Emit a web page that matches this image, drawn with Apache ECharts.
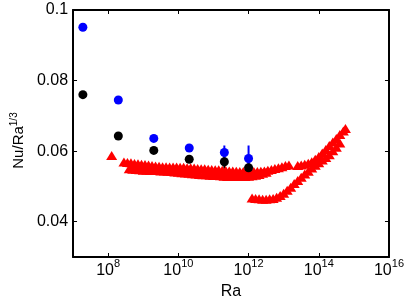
<!DOCTYPE html>
<html><head><meta charset="utf-8">
<script src="https://cdn.jsdelivr.net/npm/echarts@6/dist/echarts.min.js"></script>
<style>html,body{margin:0;padding:0;background:#fff}#c{width:407px;height:305px}</style>
</head><body><div id="c"></div>
<script>
// tick positions
const xTickExps = [8, 10, 12, 14, 16];
const yTicks = [0.04, 0.06, 0.08, 0.1];

// black circles (log10 Ra, Nu/Ra^1/3, error)
const blackLogRa = [7.28, 8.29, 9.30, 10.31, 11.31, 12.00];
const blackVal   = [0.0760, 0.0643, 0.0602, 0.0577, 0.0570, 0.0553];
const blackErr   = [0, 0, 0, 0, 0.0020, 0.0035];

// blue circles
const blueLogRa = [7.28, 8.29, 9.30, 10.31, 11.31, 12.00];
const blueVal   = [0.0951, 0.0745, 0.0636, 0.0609, 0.0596, 0.0579];
const blueErr   = [0, 0, 0, 0, 0.0020, 0.0037];

// red triangles, upper branch, upper row
const redALogRa = [8.10, 8.45, 8.55, 8.65, 8.75, 8.85, 8.95, 9.05, 9.15, 9.25, 9.35, 9.45, 9.55, 9.65, 9.75, 9.85, 9.95,
  10.05, 10.15, 10.25, 10.35, 10.45, 10.55, 10.65, 10.75, 10.85, 10.95, 11.05, 11.15, 11.25, 11.35, 11.45, 11.55, 11.65,
  11.75, 11.85, 11.95, 12.05, 12.15, 12.25, 12.35, 12.45, 12.55, 12.65, 12.75, 12.85, 12.95, 13.05, 13.15];
const redAVal   = [0.0588, 0.0569, 0.0568, 0.0567, 0.0565, 0.0564, 0.0563, 0.0562, 0.0561, 0.0559, 0.0558, 0.0557, 0.0556, 0.0556, 0.0555, 0.0555, 0.0555,
  0.0554, 0.0554, 0.0553, 0.0553, 0.0552, 0.0551, 0.0550, 0.0550, 0.0549, 0.0548, 0.0547, 0.0547, 0.0546, 0.0545, 0.0544, 0.0544, 0.0543,
  0.0542, 0.0542, 0.0542, 0.0542, 0.0542, 0.0542, 0.0543, 0.0544, 0.0546, 0.0548, 0.0551, 0.0553, 0.0556, 0.0559, 0.0561];
// red triangles, upper branch, lower row
const redBLogRa = [8.60, 8.70, 8.80, 8.90, 9.00, 9.10, 9.20, 9.30, 9.40, 9.50, 9.60, 9.70, 9.80, 9.90, 10.00, 10.10, 10.20, 10.30,
  10.40, 10.50, 10.60, 10.70, 10.80, 10.90, 11.00, 11.10, 11.20, 11.30, 11.40, 11.50, 11.60, 11.70, 11.80, 11.90, 12.00, 12.10,
  12.20, 12.30, 12.40, 12.50];
const redBVal   = [0.0550, 0.0549, 0.0548, 0.0547, 0.0546, 0.0546, 0.0545, 0.0545, 0.0545, 0.0544, 0.0544, 0.0543, 0.0542, 0.0541, 0.0540, 0.0539, 0.0538, 0.0537,
  0.0536, 0.0535, 0.0534, 0.0533, 0.0533, 0.0532, 0.0531, 0.0531, 0.0530, 0.0529, 0.0528, 0.0528, 0.0528, 0.0528, 0.0528, 0.0528, 0.0529, 0.0530,
  0.0532, 0.0534, 0.0537, 0.0540];
// red triangles, lower branch, lower row
const redCLogRa = [12.10, 12.20, 12.30, 12.40, 12.50, 12.60, 12.70, 12.80, 12.90, 13.00, 13.10, 13.20, 13.30, 13.40, 13.50,
  13.60, 13.70, 13.80, 13.90, 14.00, 14.10, 14.20, 14.30, 14.40, 14.50, 14.60];
const redCVal   = [0.0467, 0.0466, 0.0465, 0.0464, 0.0464, 0.0465, 0.0466, 0.0469, 0.0474, 0.0481, 0.0489, 0.0498, 0.0508, 0.0517, 0.0526,
  0.0535, 0.0543, 0.0552, 0.0560, 0.0567, 0.0575, 0.0582, 0.0590, 0.0601, 0.0611, 0.0623];
// red triangles, lower branch, upper row
const redDLogRa = [13.40, 13.50, 13.60, 13.70, 13.80, 13.90, 14.00, 14.10, 14.20, 14.30, 14.40, 14.50, 14.60, 14.70, 14.76];
const redDVal   = [0.0559, 0.0561, 0.0563, 0.0566, 0.0570, 0.0577, 0.0585, 0.0595, 0.0605, 0.0616, 0.0626, 0.0636, 0.0647, 0.0657, 0.0664];

const ra = e => Math.pow(10, e);
const pts = (xs, ys) => xs.map((e, i) => [ra(e), ys[i]]);
const errPts = (xs, ys, es) => xs.map((e, i) => [ra(e), ys[i], es[i]]).filter(d => d[2] > 0);

const FONT = 'Liberation Sans, Arial, Helvetica, sans-serif';
const red = '#ff0000', blue = '#0000ff', black = '#000000';

function errBar(color) {
  return function (params, api) {
    const x = api.value(0), y = api.value(1), e = api.value(2);
    const p1 = api.coord([x, y - e]);
    const p2 = api.coord([x, y + e]);
    return { type: 'line', shape: { x1: p1[0], y1: p1[1], x2: p2[0], y2: p2[1] },
             style: { stroke: color, lineWidth: 2 } };
  };
}

const axisLineStyle = { show: true, lineStyle: { color: '#000', width: 2 } };
const tickStyle = { color: '#000', width: 1 };
const xCustom = xTickExps.map(ra);
const tri = (data) => ({ type: 'scatter', data, symbol: 'triangle', symbolSize: [11, 9],
  itemStyle: { color: red, opacity: 1 }, emphasis: { disabled: true } });
const circ = (data, color) => ({ type: 'scatter', data, symbol: 'circle', symbolSize: 9,
  itemStyle: { color, opacity: 1 }, emphasis: { disabled: true } });

const option = {
  animation: false,
  backgroundColor: '#fff',
  grid: { left: 69, right: 18, top: 10, bottom: 48, containLabel: false },
  xAxis: [{
    type: 'log', logBase: 10, min: 1e7, max: 1e16, position: 'bottom',
    name: 'Ra', nameLocation: 'middle', nameGap: 26,
    nameTextStyle: { fontFamily: FONT, fontSize: 16, color: '#000', verticalAlign: 'top' },
    axisLine: axisLineStyle,
    axisTick: { show: true, inside: true, length: 4, customValues: xCustom, lineStyle: tickStyle },
    minorTick: { show: false },
    splitLine: { show: false },
    axisLabel: {
      customValues: xCustom, margin: 1, color: '#000', fontFamily: FONT, fontSize: 16,
      formatter: v => '{b|10}{sup|' + Math.round(Math.log10(v)) + '}',
      rich: {
        b: { fontSize: 16, fontFamily: FONT, color: '#000', lineHeight: 16, padding: [9, 0, 0, 0] },
        sup: { fontSize: 11, fontFamily: FONT, color: '#000', lineHeight: 12, verticalAlign: 'top' }
      }
    }
  }, {
    type: 'log', logBase: 10, min: 1e7, max: 1e16, position: 'top',
    axisLine: axisLineStyle,
    axisTick: { show: true, inside: true, length: 4, customValues: xCustom, lineStyle: tickStyle },
    axisLabel: { show: false }, splitLine: { show: false }
  }],
  yAxis: [{
    type: 'value', min: 0.03, max: 0.1, position: 'left',
    name: '{b|Nu/Ra}{sup|1/3}', nameLocation: 'middle', nameGap: 42, nameRotate: 90,
    nameTextStyle: { fontFamily: FONT, fontSize: 15, color: '#000', padding: [0, 14, 0, 0],
      rich: {
        b: { fontFamily: FONT, fontSize: 15, color: '#000', lineHeight: 15, padding: [3, 0, 0, 0] },
        sup: { fontFamily: FONT, fontSize: 10, color: '#000', lineHeight: 10, verticalAlign: 'top' }
      } },
    axisLine: axisLineStyle,
    axisTick: { show: true, inside: true, length: 4, customValues: yTicks, lineStyle: tickStyle },
    splitLine: { show: false },
    axisLabel: { customValues: yTicks, margin: 5, color: '#000', fontFamily: FONT, fontSize: 16,
      formatter: v => String(+v.toFixed(2)) }
  }, {
    type: 'value', min: 0.03, max: 0.1, position: 'right',
    axisLine: axisLineStyle,
    axisTick: { show: true, inside: true, length: 4, customValues: yTicks, lineStyle: tickStyle },
    axisLabel: { show: false }, splitLine: { show: false }
  }],
  series: [
    tri(pts(redALogRa, redAVal)),
    tri(pts(redBLogRa, redBVal)),
    tri(pts(redCLogRa, redCVal)),
    tri(pts(redDLogRa, redDVal)),
    { type: 'custom', data: errPts(blackLogRa, blackVal, blackErr), renderItem: errBar(black), encode: { x: 0, y: 1 } },
    circ(pts(blackLogRa, blackVal), black),
    { type: 'custom', data: errPts(blueLogRa, blueVal, blueErr), renderItem: errBar(blue), encode: { x: 0, y: 1 } },
    circ(pts(blueLogRa, blueVal), blue)
  ]
};
const chart = echarts.init(document.getElementById('c'), null, { renderer: 'canvas' });
chart.setOption(option);
</script></body></html>
